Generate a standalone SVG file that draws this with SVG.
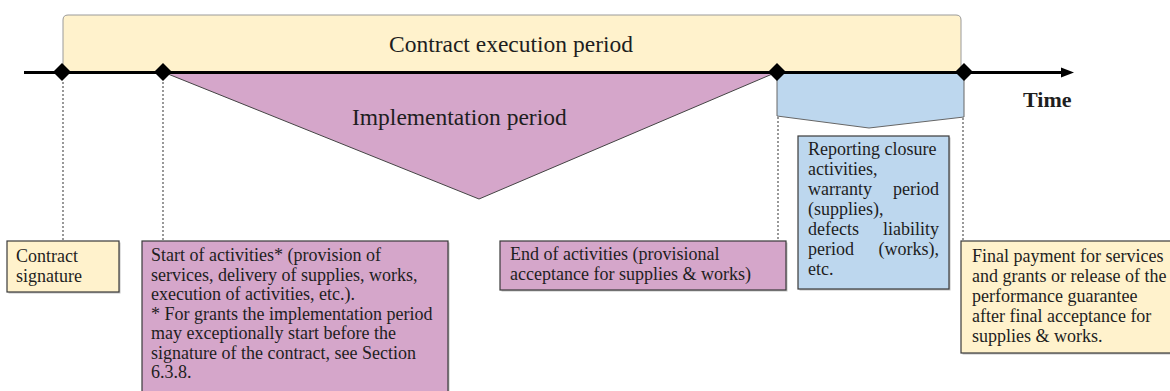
<svg xmlns="http://www.w3.org/2000/svg" width="1170" height="391" viewBox="0 0 1170 391">
<style>
  .t { font-family: "Liberation Serif", "Times New Roman", serif; fill: #1e1e1e; }
  .box { font-size: 18px; }
  .big { font-size: 23.5px; }
  .dot { stroke: #555; stroke-width: 1.2; stroke-dasharray: 2 2; fill: none; }
  .bx { stroke: #3a3a3a; stroke-width: 1.2; }
  .sh { fill: #9a9a9a; opacity: 0.6; }
  .yel { fill: #FFF2CC; }
  .pur { fill: #D5A6CA; }
  .blu { fill: #BDD7EE; }
</style>
<defs>
  <polygon id="dia" points="0,-9 9,0 0,9 -9,0" fill="#000"/>
</defs>
<rect width="1170" height="391" fill="#fff"/>

<g id="contract-execution-period">
  <path d="M63,72 V20 Q63,15 68,15 H956 Q961,15 961,20 V72 Z" class="yel" stroke="#9a9a9a" stroke-width="1"/>
  <text class="t big" x="511" y="52" text-anchor="middle">Contract execution period</text>
</g>

<g id="implementation-period">
  <polygon points="163,72 777,72 479,199" class="pur" stroke="#444" stroke-width="1"/>
  <text class="t big" x="352" y="125">Implementation period</text>
</g>

<g id="closure-period">
  <polygon points="777,73 964,73 964,117 869,128 777,116" class="blu" stroke="#666" stroke-width="1"/>
</g>

<g id="connectors">
  <line x1="24" y1="72.5" x2="1063" y2="72.5" stroke="#000" stroke-width="3"/>
  <polygon points="1061,67.5 1074,72.5 1061,77.5" fill="#000"/>
  <line class="dot" x1="63" y1="82" x2="63" y2="241"/>
  <line class="dot" x1="163" y1="82" x2="163" y2="241"/>
  <line class="dot" x1="778" y1="117" x2="778" y2="240"/>
  <line class="dot" x1="963" y1="118" x2="963" y2="241"/>
</g>

<g id="milestones">
  <use href="#dia" x="62" y="72"/>
  <use href="#dia" x="163" y="72"/>
  <use href="#dia" x="777" y="72"/>
  <use href="#dia" x="964" y="72"/>
</g>

<g id="time-label">
  <text class="t" x="1023" y="107" font-size="22" font-weight="bold">Time</text>
</g>

<g id="contract-signature">
  <rect class="sh" x="8.5" y="242.5" width="112" height="51"/>
  <rect class="yel bx" x="7" y="241" width="112" height="51"/>
  <text class="t box" x="16" y="262">Contract</text>
  <text class="t box" x="16" y="282">signature</text>
</g>

<g id="start-of-activities">
  <rect class="sh" x="143.5" y="242.5" width="306" height="160"/>
  <rect class="pur bx" x="142" y="241" width="306" height="160"/>
  <text class="t box" x="151" y="261">Start of activities*  (provision of</text>
  <text class="t box" x="151" y="280.5">services, delivery of supplies, works,</text>
  <text class="t box" x="151" y="300">execution of activities,  etc.).</text>
  <text class="t box" x="151" y="319.5">* For grants the implementation  period</text>
  <text class="t box" x="151" y="339">may exceptionally  start before the</text>
  <text class="t box" x="151" y="358.5">signature  of the contract, see Section</text>
  <text class="t box" x="151" y="378">6.3.8.</text>
</g>

<g id="end-of-activities">
  <rect class="sh" x="501.5" y="242.5" width="286" height="49"/>
  <rect class="pur bx" x="500" y="241" width="286" height="49"/>
  <text class="t box" x="510" y="260">End of activities  (provisional</text>
  <text class="t box" x="510" y="280">acceptance for supplies &amp; works)</text>
</g>

<g id="closure-activities">
  <rect class="sh" x="799.5" y="137.5" width="151" height="153"/>
  <rect class="blu bx" x="798" y="136" width="151" height="153"/>
  <text class="t box" x="808" y="155">Reporting closure</text>
  <text class="t box" x="808" y="175">activities,</text>
  <text class="t box" x="808" y="195">warranty</text>
  <text class="t box" x="939" y="195" text-anchor="end">period</text>
  <text class="t box" x="808" y="215">(supplies),</text>
  <text class="t box" x="808" y="235">defects</text>
  <text class="t box" x="939" y="235" text-anchor="end">liability</text>
  <text class="t box" x="808" y="255">period</text>
  <text class="t box" x="939" y="255" text-anchor="end">(works),</text>
  <text class="t box" x="808" y="275">etc.</text>
</g>

<g id="final-payment">
  <rect class="sh" x="962.5" y="242.5" width="210" height="112"/>
  <rect class="yel bx" x="961" y="241" width="210" height="112"/>
  <text class="t box" x="972" y="262">Final payment for services</text>
  <text class="t box" x="972" y="282">and grants or release of the</text>
  <text class="t box" x="972" y="302">performance guarantee</text>
  <text class="t box" x="972" y="322">after final  acceptance for</text>
  <text class="t box" x="972" y="342">supplies &amp; works.</text>
</g>
</svg>
